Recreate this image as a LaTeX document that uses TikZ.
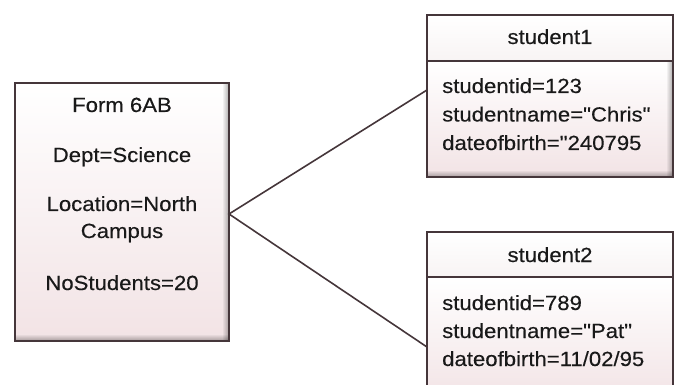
\documentclass[tikz,border=0pt]{standalone}
\usepackage{fontspec}
\setmainfont{Liberation Sans}[FakeStretch=1.08, FakeBold=0.3, Ligatures=TeXOff]
\usetikzlibrary{fadings,calc}
\definecolor{edge}{HTML}{45363A}
\definecolor{pinkb}{HTML}{F2E3E5}
\definecolor{headb}{HTML}{F8F4F4}
\newcommand{\innershade}[1]{%
  \path[fill=black, fill opacity=.28, path fading=north]
    ($(#1.south west)+(1,-7)$) rectangle ($(#1.south east)+(-1,-1)$);
  \path[fill=black, fill opacity=.28, path fading=west]
    ($(#1.north east)+(-7,1)$) rectangle ($(#1.south east)+(-1,-1)$);
}
\begin{document}
\begin{tikzpicture}[x=1pt,y=-1pt,
  font=\fontsize{20.5}{22}\selectfont,
  box/.style={draw=edge, line width=1.7pt, top color=white, bottom color=pinkb,
              inner sep=0, outer sep=0, anchor=north west},
  headbox/.style={box, top color=white, bottom color=headb},
  conn/.style={draw=edge, line width=1.6pt},
  txt/.style={inner sep=0, text=black!90}]
\useasboundingbox (0,0) rectangle (678,385);
\clip (0,0) rectangle (678,385);

% left object
\node[box, minimum width=214pt, minimum height=258pt] (form) at (15,83) {};
\innershade{form}
\node[txt, anchor=base] (t1) at (122,112) {Form 6AB};
\node[txt, anchor=base] (t2) at (122,162) {Dept=Science};
\node[txt, anchor=base] (t3) at (122,211) {Location=North};
\node[txt, anchor=base] (t4) at (122,238) {Campus};
\node[txt, anchor=base] (t5) at (122,290) {NoStudents=20};

% student1
\node[headbox, minimum width=246pt, minimum height=46pt] (s1head) at (427,15) {};
\node[box, minimum width=246pt, minimum height=116pt] (s1body) at (427,61) {};
\innershade{s1body}
\node[txt, anchor=base] (s1name) at (550,44) {student1};
\node[txt, anchor=base west] (s1a) at (442,93) {studentid=123};
\node[txt, anchor=base west] (s1b) at (442,121.5) {studentname="Chris"};
\node[txt, anchor=base west] (s1c) at (442,150) {dateofbirth="240795};

% student2
\node[headbox, minimum width=246pt, minimum height=45pt] (s2head) at (427,232) {};
\node[box, minimum width=246pt, minimum height=125pt] (s2body) at (427,277) {};
\node[txt, anchor=base] (s2name) at (550,262) {student2};
\node[txt, anchor=base west] (s2a) at (442,310) {studentid=789};
\node[txt, anchor=base west] (s2b) at (442,338) {studentname="Pat"};
\node[txt, anchor=base west] (s2c) at (442,366) {dateofbirth=11/02/95};

% connectors
\draw[conn] ($(s1body.north west)+(0,29)$) -- ($(form.east)+(0,2)$)
            -- ($(s2body.north west)+(0,70)$);
\end{tikzpicture}
\end{document}
